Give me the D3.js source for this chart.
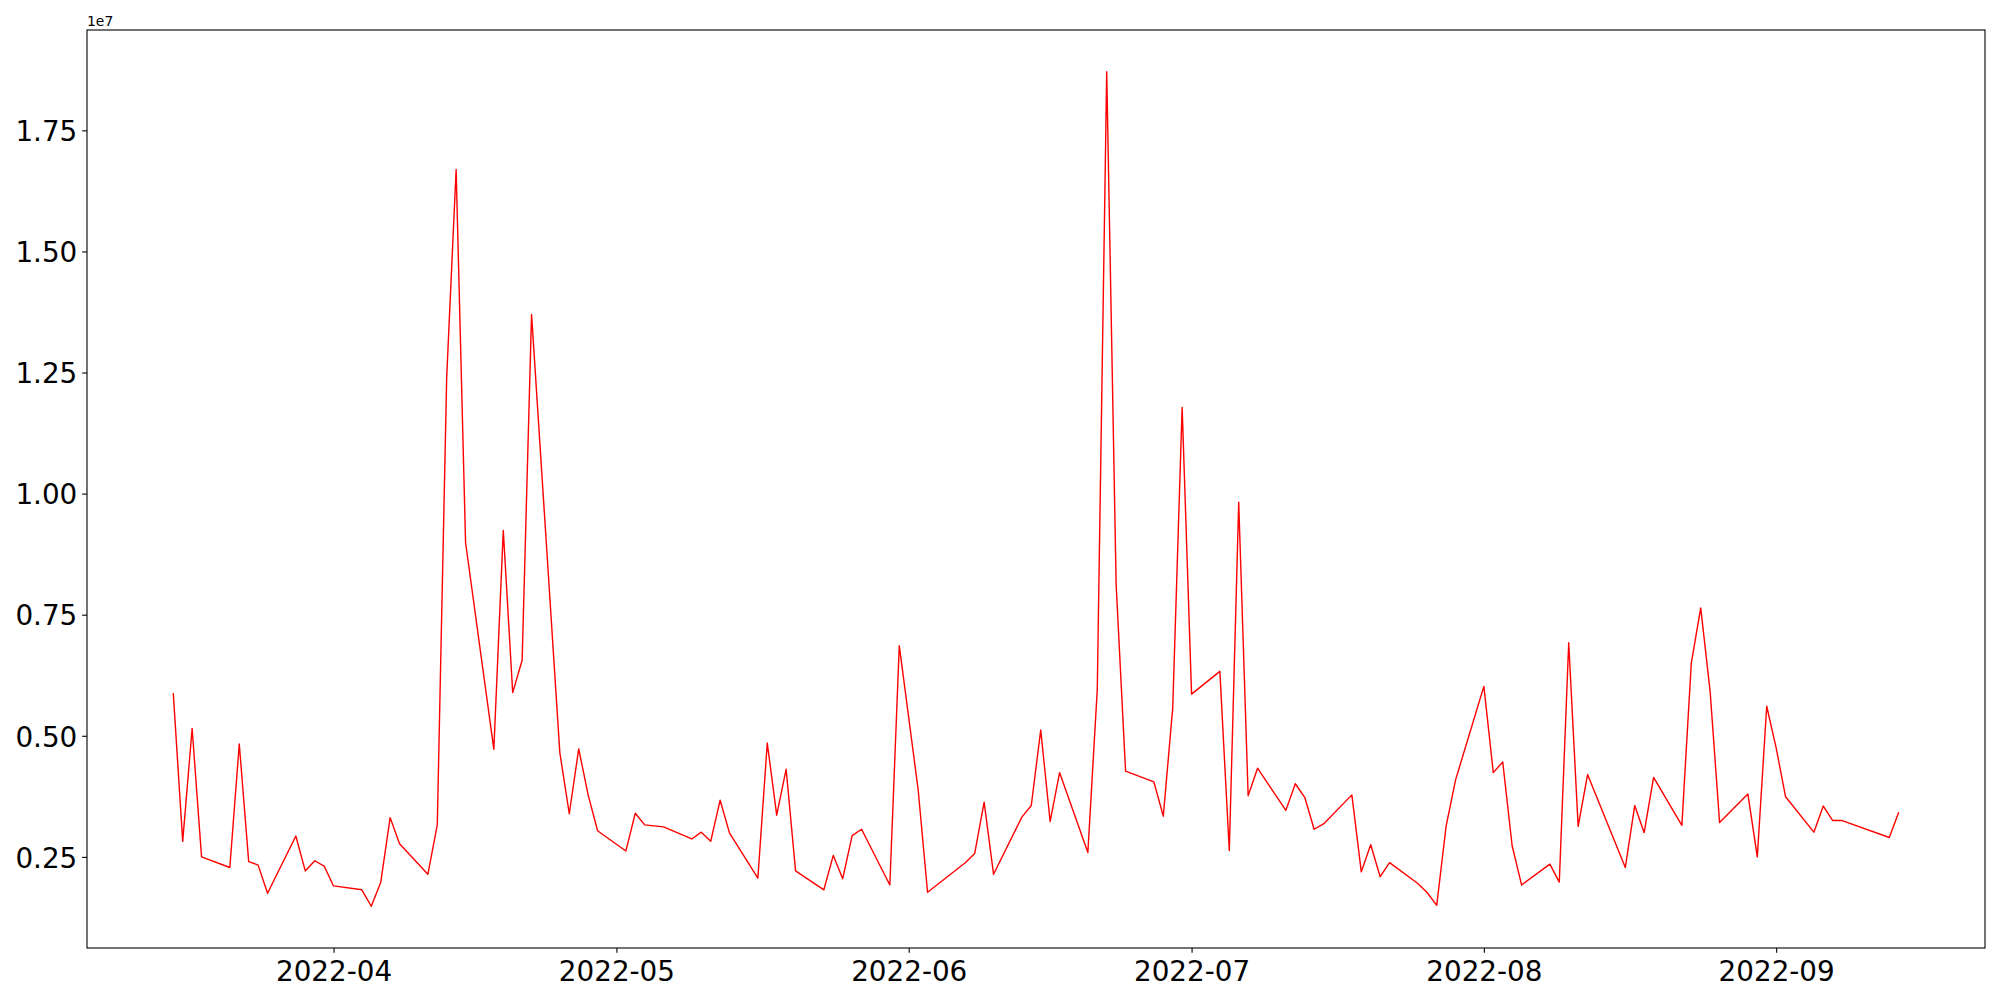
<!DOCTYPE html>
<html>
<head>
<meta charset="utf-8">
<script src="https://cdn.jsdelivr.net/npm/d3@7"></script>
<style>
  body { margin: 0; background: #fff; }
  svg { display: block; font-family: "DejaVu Sans", sans-serif; }
</style>
</head>
<body>
<div id="chart"></div>
<script>
// trading days (KRX calendar) and daily volume
const dates = [
  "2022-03-15","2022-03-16","2022-03-17","2022-03-18","2022-03-21","2022-03-22","2022-03-23","2022-03-24","2022-03-25",
  "2022-03-28","2022-03-29","2022-03-30","2022-03-31",
  "2022-04-01","2022-04-04","2022-04-05","2022-04-06","2022-04-07","2022-04-08","2022-04-11","2022-04-12","2022-04-13",
  "2022-04-14","2022-04-15","2022-04-18","2022-04-19","2022-04-20","2022-04-21","2022-04-22","2022-04-25","2022-04-26",
  "2022-04-27","2022-04-28","2022-04-29",
  "2022-05-02","2022-05-03","2022-05-04","2022-05-06","2022-05-09","2022-05-10","2022-05-11","2022-05-12","2022-05-13",
  "2022-05-16","2022-05-17","2022-05-18","2022-05-19","2022-05-20","2022-05-23","2022-05-24","2022-05-25","2022-05-26",
  "2022-05-27","2022-05-30","2022-05-31",
  "2022-06-02","2022-06-03","2022-06-07","2022-06-08","2022-06-09","2022-06-10","2022-06-13","2022-06-14","2022-06-15",
  "2022-06-16","2022-06-17","2022-06-20","2022-06-21","2022-06-22","2022-06-23","2022-06-24","2022-06-27","2022-06-28",
  "2022-06-29","2022-06-30",
  "2022-07-01","2022-07-04","2022-07-05","2022-07-06","2022-07-07","2022-07-08","2022-07-11","2022-07-12","2022-07-13",
  "2022-07-14","2022-07-15","2022-07-18","2022-07-19","2022-07-20","2022-07-21","2022-07-22","2022-07-25","2022-07-26",
  "2022-07-27","2022-07-28","2022-07-29",
  "2022-08-01","2022-08-02","2022-08-03","2022-08-04","2022-08-05","2022-08-08","2022-08-09","2022-08-10","2022-08-11",
  "2022-08-12","2022-08-16","2022-08-17","2022-08-18","2022-08-19","2022-08-22","2022-08-23","2022-08-24","2022-08-25",
  "2022-08-26","2022-08-29","2022-08-30","2022-08-31",
  "2022-09-01","2022-09-02","2022-09-05","2022-09-06","2022-09-07","2022-09-08","2022-09-13","2022-09-14"
];

const volumes = [
  5880000, 2820000, 5150000, 2500000, 2280000, 4830000, 2400000, 2330000, 1750000,
  2930000, 2210000, 2420000, 2310000,
  1900000, 1820000, 1480000, 1970000, 3310000, 2770000, 2140000, 3160000, 12410000,
  16690000, 8990000, 4720000, 9240000, 5890000, 6560000, 13700000, 4650000, 3390000,
  4730000, 3780000, 3040000,
  2620000, 3400000, 3160000, 3120000, 2870000, 3010000, 2820000, 3670000, 2990000,
  2060000, 4850000, 3360000, 4310000, 2210000, 1820000, 2530000, 2050000, 2940000,
  3070000, 1920000, 6860000,
  3890000, 1770000, 2380000, 2570000, 3630000, 2140000, 3320000, 3560000, 5120000,
  3230000, 4240000, 2590000, 5960000, 18710000, 8120000, 4270000, 4050000, 3340000,
  5570000, 11780000,
  5860000, 6330000, 2630000, 9820000, 3760000, 4330000, 3460000, 4010000, 3730000,
  3070000, 3180000, 3780000, 2190000, 2750000, 2090000, 2380000, 1950000, 1760000,
  1500000, 3140000, 4090000,
  6020000, 4240000, 4460000, 2730000, 1920000, 2350000, 1980000, 6920000, 3130000,
  4200000, 2280000, 3560000, 3000000, 4140000, 3150000, 6500000, 7640000, 5910000,
  3210000, 3800000, 2500000, 5610000,
  4750000, 3740000, 3010000, 3550000, 3250000, 3250000, 2900000, 3420000
];

const xTickDates = ["2022-04-01", "2022-05-01", "2022-06-01", "2022-07-01", "2022-08-01", "2022-09-01"];
const yTickValues = [2500000, 5000000, 7500000, 10000000, 12500000, 15000000, 17500000];
const yOffsetLabel = "1e7";

const parseDate = d3.timeParse("%Y-%m-%d");
const data = dates.map((d, i) => ({ date: parseDate(d), value: volumes[i] }));

const W = 2000, H = 1000;
const margin = { top: 30, right: 15, bottom: 52, left: 87 };
const width = W - margin.left - margin.right;
const height = H - margin.top - margin.bottom;
const tickLen = 4.86, tickPad = 4.86, fontSize = 27.8;

const svgRoot = d3.select("#chart")
  .append("svg")
  .attr("width", W)
  .attr("height", H);

svgRoot.append("rect").attr("width", W).attr("height", H).attr("fill", "#fff");

const svg = svgRoot.append("g")
  .attr("transform", `translate(${margin.left}, ${margin.top})`);

// 5% padding on both axes, like matplotlib autoscale
const xExt = d3.extent(data, d => d.date);
const xPad = (xExt[1] - xExt[0]) * 0.05;
const xScale = d3.scaleTime()
  .domain([new Date(+xExt[0] - xPad), new Date(+xExt[1] + xPad)])
  .range([0, width]);

const yExt = d3.extent(data, d => d.value);
const yPad = (yExt[1] - yExt[0]) * 0.05;
const yScale = d3.scaleLinear()
  .domain([yExt[0] - yPad, yExt[1] + yPad])
  .range([height, 0]);

// x axis
const xAxis = svg.append("g")
  .attr("transform", `translate(0, ${height})`)
  .call(d3.axisBottom(xScale)
    .tickValues(xTickDates.map(parseDate))
    .tickFormat(d3.timeFormat("%Y-%m"))
    .tickSize(tickLen)
    .tickPadding(tickPad))
  .call(g => g.select(".domain").remove());

xAxis.selectAll("line").attr("stroke", "#000").attr("stroke-width", 1.1);
xAxis.selectAll("text")
  .attr("fill", "#000")
  .attr("dy", "0.82em")
  .style("font-size", fontSize + "px")
  .style("font-family", "DejaVu Sans");

// y axis
const yAxis = svg.append("g")
  .call(d3.axisLeft(yScale)
    .tickValues(yTickValues)
    .tickFormat(d => (d / 1e7).toFixed(2))
    .tickSize(tickLen)
    .tickPadding(tickPad))
  .call(g => g.select(".domain").remove());

yAxis.selectAll("line").attr("stroke", "#000").attr("stroke-width", 1.1);
yAxis.selectAll("text")
  .attr("fill", "#000")
  .attr("dy", "0.37em")
  .style("font-size", fontSize + "px")
  .style("font-family", "DejaVu Sans");

// offset text
svg.append("text")
  .attr("x", 0)
  .attr("y", -4)
  .attr("font-size", 13.9)
  .attr("fill", "#000")
  .text(yOffsetLabel);

// the line
const line = d3.line()
  .x(d => xScale(d.date))
  .y(d => yScale(d.value));

svg.append("path")
  .datum(data)
  .attr("fill", "none")
  .attr("stroke", "red")
  .attr("stroke-width", 1.4)
  .attr("stroke-linejoin", "round")
  .attr("d", line);

// frame
svg.append("rect")
  .attr("width", width)
  .attr("height", height)
  .attr("fill", "none")
  .attr("stroke", "#000")
  .attr("stroke-width", 1.1);
</script>
</body>
</html>
